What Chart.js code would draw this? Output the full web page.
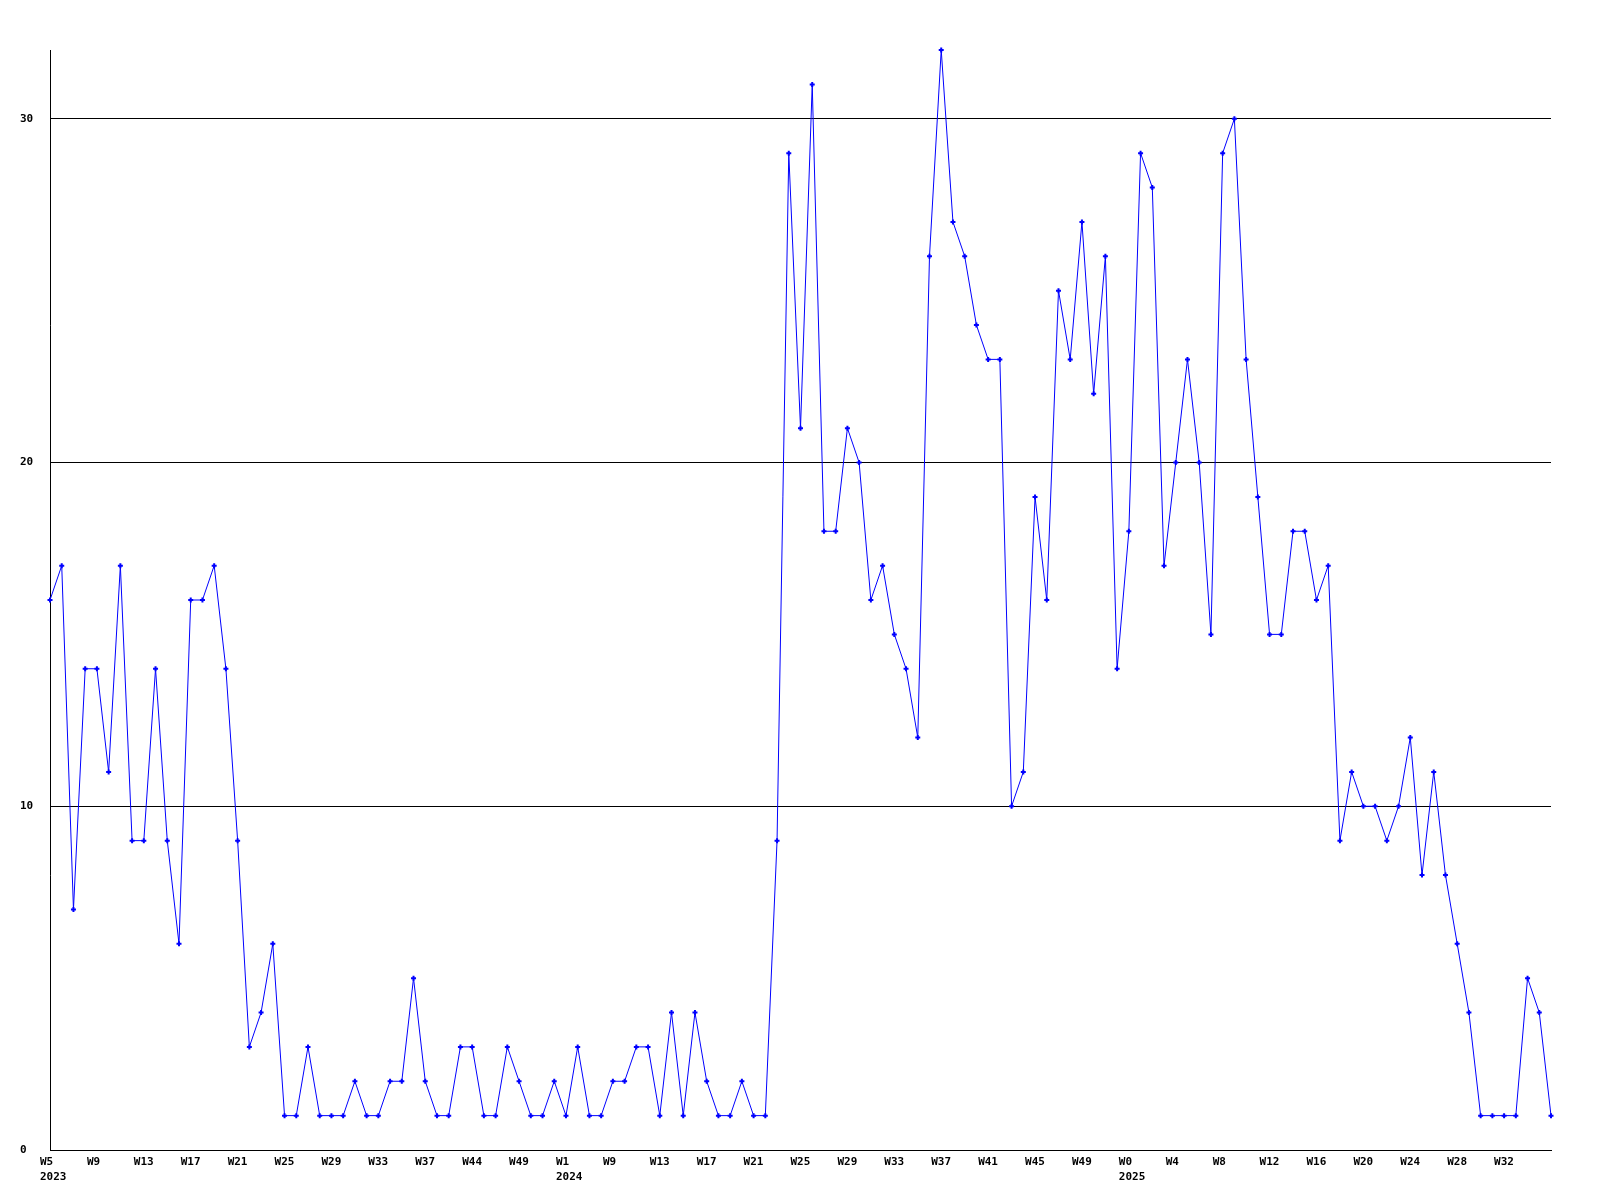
<!DOCTYPE html>
<html>
<head>
<meta charset="utf-8">
<script src="https://cdn.jsdelivr.net/npm/chart.js@4/dist/chart.umd.min.js"></script>
<style>
  body { margin: 0; background: #fff; }
  canvas { display: block; }
</style>
</head>
<body>
<canvas id="weekly" width="1600" height="1200"></canvas>
<script>
// weekly counts, one per week, oldest first
const counts = [
    16, 17, 7, 14, 14, 11, 17, 9, 9, 14, 9, 6, 16, 16, 17, 14,
    9, 3, 4, 6, 1, 1, 3, 1, 1, 1, 2, 1, 1, 2, 2, 5,
    2, 1, 1, 3, 3, 1, 1, 3, 2, 1, 1, 2, 1, 3, 1, 1,
    2, 2, 3, 3, 1, 4, 1, 4, 2, 1, 1, 2, 1, 1, 9, 29,
    21, 31, 18, 18, 21, 20, 16, 17, 15, 14, 12, 26, 32, 27, 26, 24,
    23, 23, 10, 11, 19, 16, 25, 23, 27, 22, 26, 14, 18, 29, 28, 17,
    20, 23, 20, 15, 29, 30, 23, 19, 15, 15, 18, 18, 16, 17, 9, 11,
    10, 10, 9, 10, 12, 8, 11, 8, 6, 4, 1, 1, 1, 1, 5, 4,
    1
];

// every 4th week gets a label
const tickWeeks = ["W5", "W9", "W13", "W17", "W21", "W25", "W29", "W33", "W37", "W44", "W49",
    "W1", "W9", "W13", "W17", "W21", "W25", "W29", "W33", "W37", "W41", "W45", "W49",
    "W0", "W4", "W8", "W12", "W16", "W20", "W24", "W28", "W32"];
const tickYears = ["2023", "", "", "", "", "", "", "", "", "", "",
    "2024", "", "", "", "", "", "", "", "", "", "", "",
    "2025", "", "", "", "", "", "", "", ""];
const yTicks = [0, 10, 20, 30];
const labelEvery = 4;

const labels = counts.map((c, i) => {
    let k = i / labelEvery;
    if (i % labelEvery !== 0 || k >= tickWeeks.length) return "";
    return tickYears[k] ? [tickWeeks[k], tickYears[k]] : [tickWeeks[k]];
});

const tickFont = { family: "'DejaVu Sans Mono', monospace", size: 11, weight: "bold", lineHeight: "15px" };

new Chart(document.getElementById("weekly"), {
    type: "line",
    data: {
        labels: labels,
        datasets: [{
            data: counts,
            borderColor: "#0000ff",
            backgroundColor: "#0000ff",
            borderWidth: 1,
            tension: 0,
            clip: false,
            pointStyle: "cross",
            pointRadius: 2.5,
            pointBorderWidth: 2,
            pointHoverRadius: 3
        }]
    },
    options: {
        responsive: false,
        animation: false,
        devicePixelRatio: 1,
        layout: { padding: { left: 20, top: 50, right: 49, bottom: 0 } },
        plugins: { legend: { display: false }, tooltip: { enabled: false } },
        scales: {
            x: {
                grid: { display: false, drawTicks: false },
                border: { display: true, color: "#000", width: 1 },
                ticks: {
                    autoSkip: false,
                    maxRotation: 0,
                    align: "start",
                    labelOffset: -10,
                    padding: 5,
                    color: "#000",
                    font: tickFont
                },
                afterFit: s => { s.height = 50; }
            },
            y: {
                min: 0,
                max: 32,
                grid: { color: "#000", lineWidth: 1, drawTicks: false },
                border: { display: true, color: "#000", width: 1 },
                ticks: {
                    stepSize: 10,
                    crossAlign: "far",
                    color: "#000",
                    font: tickFont
                },
                afterBuildTicks: s => {
                    s.ticks = yTicks.map(v => ({ value: v }));
                },
                afterFit: s => { s.width = 30; }
            }
        }
    }
});
</script>
</body>
</html>
